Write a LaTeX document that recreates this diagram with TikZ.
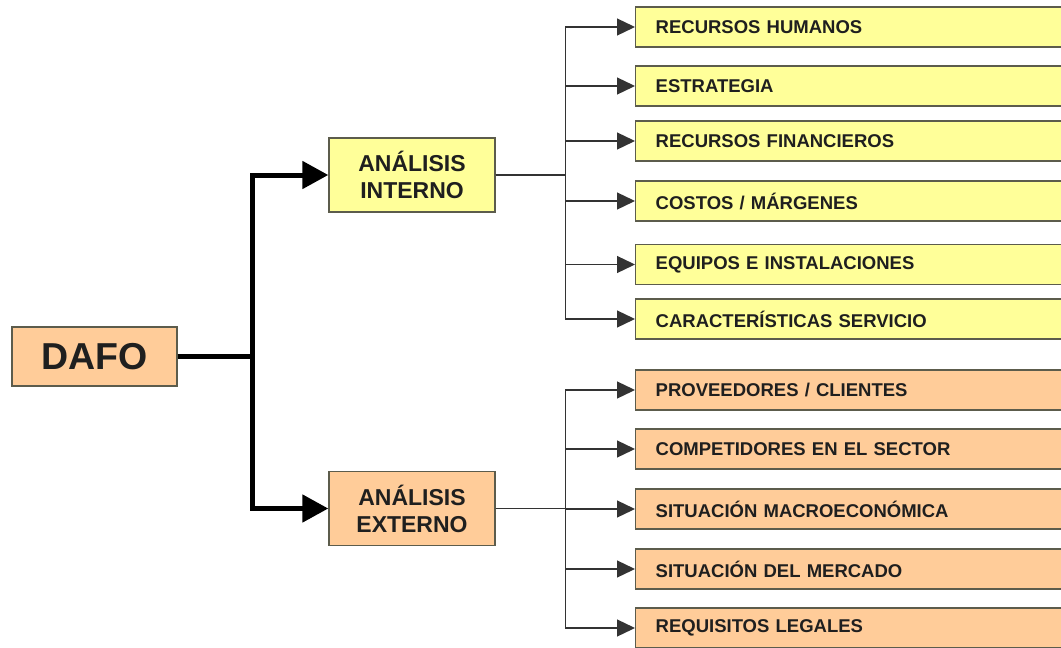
\documentclass[tikz,border=0pt]{standalone}
\usepackage{fontspec}
\setmainfont{Liberation Sans}
\usetikzlibrary{positioning}
\usetikzlibrary{arrows.meta}
\definecolor{amarillo}{HTML}{FFFF99}
\definecolor{naranja}{HTML}{FFCC99}
\definecolor{borde}{HTML}{5C5C4C}
\tikzset{
    nodebox/.style = {rectangle, draw=borde, line width=1.4pt, text=black!88},
    nodeitem/.style = {nodebox, anchor=west, text width=400pt, inner xsep=20pt, minimum height=40pt, align=left, font=\bfseries\fontsize{18.5}{21}\selectfont},
    nodeitemy/.style = {nodeitem, fill=amarillo},
    nodeitemo/.style = {nodeitem, fill=naranja},
    nodemid/.style = {nodebox, minimum width=166pt, minimum height=74pt, align=center, font=\bfseries\fontsize{23}{27}\selectfont},
    noderoot/.style = {nodebox, fill=naranja, minimum width=165pt, minimum height=59pt, font=\bfseries\fontsize{37.5}{42}\selectfont},
    edgethick/.style = {-{Triangle[length=26pt,width=27pt]}, line width=5pt, black},
    edgethin/.style = {-{Triangle[length=18pt,width=17pt]}, line width=1.3pt, black!80}
}
\begin{document}
\begin{tikzpicture}[x=1pt,y=-1pt]
\useasboundingbox (0,0) rectangle (1061,648);
\clip (0,0) rectangle (1061,648);
\node[noderoot] at (94.5,356.5) (dafo) {DAFO};
\node[nodemid,fill=amarillo] at (412,175) (ai) {ANÁLISIS\\INTERNO};
\node[nodemid,fill=naranja] at (412,508.5) (ae) {ANÁLISIS\\EXTERNO};
%
\draw[edgethick] (dafo.east) -- ++(75,0) |- (ai.west);
\draw[edgethick] (dafo.east) -- ++(75,0) |- (ae.west);
%
\node[nodeitemy] at (635,27) (i1) {RECURSOS HUMANOS};
\node[nodeitemy] at (635,86) (i2) {ESTRATEGIA};
\node[nodeitemy] at (635,141) (i3) {RECURSOS FINANCIEROS};
\node[nodeitemy] at (635,201) (i4) {COSTOS / MÁRGENES};
\node[nodeitemy] at (635,264.5) (i5) {EQUIPOS E INSTALACIONES};
\node[nodeitemy] at (635,319) (i6) {CARACTERÍSTICAS SERVICIO};
%
\foreach \n in {i1,i2,i3,i4,i5,i6}
  \draw[edgethin] (ai.east) -- ++(70,0) |- (\n.west);
%
\node[nodeitemo] at (635,390) (e1) {PROVEEDORES / CLIENTES};
\node[nodeitemo] at (635,449) (e2) {COMPETIDORES EN EL SECTOR};
\node[nodeitemo] at (635,509) (e3) {SITUACIÓN MACROECONÓMICA};
\node[nodeitemo] at (635,569) (e4) {SITUACIÓN DEL MERCADO};
\node[nodeitemo] at (635,628) (e5) {REQUISITOS LEGALES};
%
\foreach \n in {e1,e2,e3,e4,e5}
  \draw[edgethin] (ae.east) -- ++(70,0) |- (\n.west);
\end{tikzpicture}
\end{document}
